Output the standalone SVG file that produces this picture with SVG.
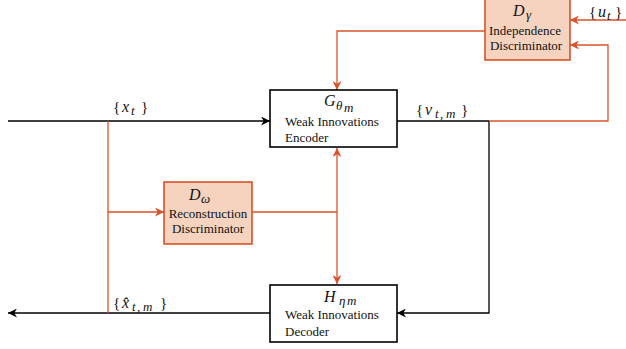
<svg xmlns="http://www.w3.org/2000/svg" width="626" height="349" viewBox="0 0 626 349">
<style>
.box{fill:#fff;stroke:#000;stroke-width:1.6}
.dbox{fill:#f5d3bf;stroke:#d9532a;stroke-width:1.6}
.t{font-family:"Liberation Serif","DejaVu Serif",serif;font-size:13px;fill:#111}
.m{font-family:"Liberation Serif","DejaVu Serif",serif;font-style:italic;font-size:16px;fill:#111}
.s{font-size:13px}
.u{font-style:normal;font-size:15px}
.blk{fill:none;stroke:#000;stroke-width:1.3}
.org{fill:none;stroke:#d9532a;stroke-width:1.3}
</style>
<defs>
<marker id="ab" viewBox="0 0 10 10" refX="10" refY="5" markerWidth="9" markerHeight="9" markerUnits="userSpaceOnUse" orient="auto">
<path d="M0,0 L10,5 L0,10 L3,5 Z" fill="#000"/>
</marker>
<marker id="ao" viewBox="0 0 10 10" refX="10" refY="5" markerWidth="9" markerHeight="9" markerUnits="userSpaceOnUse" orient="auto">
<path d="M0,0 L10,5 L0,10 L3,5 Z" fill="#d9532a"/>
</marker>
<marker id="aos" viewBox="0 0 10 10" refX="10" refY="5" markerWidth="9" markerHeight="9" markerUnits="userSpaceOnUse" orient="auto-start-reverse">
<path d="M0,0 L10,5 L0,10 L3,5 Z" fill="#d9532a"/>
</marker>
</defs>
<g id="connectors">
<path class="blk" d="M8,121 H270" marker-end="url(#ab)"/>
<path class="blk" d="M397,121 H489"/>
<path class="blk" d="M489,121 V313 H397" marker-end="url(#ab)"/>
<path class="blk" d="M270,313 H8" marker-end="url(#ab)"/>
<path class="org" d="M489,121 H608 V45 H570" marker-end="url(#ao)"/>
<path class="org" d="M626,20 H570" marker-end="url(#ao)"/>
<path class="org" d="M485,31 H337 V90" marker-end="url(#ao)"/>
<path class="org" d="M337,148 V284" marker-start="url(#aos)" marker-end="url(#ao)"/>
<path class="org" d="M252,212 H337"/>
<path class="org" d="M108,121 V313"/>
<path class="org" d="M108,212 H164" marker-end="url(#ao)"/>
<text class="m" y="112"><tspan class="u" x="113">{</tspan><tspan x="122">x</tspan><tspan class="s" x="131" dy="3">t</tspan><tspan class="u" x="141" dy="-3">}</tspan></text>
<text class="m" y="115"><tspan class="u" x="416">{</tspan><tspan x="425">ν</tspan><tspan class="s" x="435" dy="3">t</tspan><tspan class="s" x="440">,</tspan><tspan class="s" x="446">m</tspan><tspan class="u" x="461" dy="-3">}</tspan></text>
<text class="m" y="17"><tspan class="u" x="589">{</tspan><tspan x="598">u</tspan><tspan class="s" x="607" dy="3">t</tspan><tspan class="u" x="615" dy="-3">}</tspan></text>
<text class="m" y="308"><tspan class="u" x="113">{</tspan><tspan x="122">x̂</tspan><tspan class="s" x="132" dy="3">t</tspan><tspan class="s" x="137">,</tspan><tspan class="s" x="143">m</tspan><tspan class="u" x="160" dy="-3">}</tspan></text>
</g>
<g id="encoder">
<rect class="box" x="270" y="90" width="127" height="57"/>
<text class="m" x="324" y="106">G<tspan class="s" x="336" dy="4">θ</tspan><tspan class="s" x="344" dy="2">m</tspan></text>
<text class="t" x="285" y="126">Weak Innovations</text>
<text class="t" x="285" y="142">Encoder</text>
</g>
<g id="decoder">
<rect class="box" x="270" y="285" width="127" height="57"/>
<text class="m" x="324" y="302">H<tspan class="s" x="339" dy="3">η</tspan><tspan class="s" x="347">m</tspan></text>
<text class="t" x="285" y="319">Weak Innovations</text>
<text class="t" x="285" y="336">Decoder</text>
</g>
<g id="reconstruction">
<rect class="dbox" x="164" y="182" width="88" height="62"/>
<text class="m" x="189" y="200">D<tspan class="s" x="201" dy="3">ω</tspan></text>
<text class="t" x="208" y="218" text-anchor="middle">Reconstruction</text>
<text class="t" x="208" y="233" text-anchor="middle">Discriminator</text>
</g>
<g id="independence">
<rect class="dbox" x="485" y="-2" width="85" height="62"/>
<text class="m" x="513" y="16">D<tspan class="s" x="526" dy="3">γ</tspan></text>
<text class="t" x="525" y="35" text-anchor="middle">Independence</text>
<text class="t" x="526" y="50" text-anchor="middle">Discriminator</text>
</g>
</svg>
